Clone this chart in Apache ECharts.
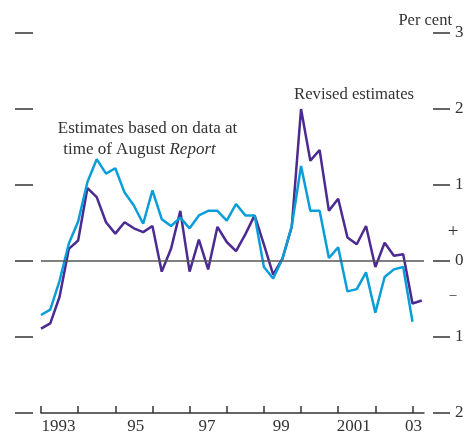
<!DOCTYPE html>
<html>
<head>
<meta charset="utf-8">
<script src="https://cdn.jsdelivr.net/npm/echarts@6/dist/echarts.min.js"></script>
<style>html,body{margin:0;padding:0;background:#fff;}#c{width:467px;height:432px;}</style>
</head>
<body>
<div id="c"></div>
<script>
// Quarterly data, 1993 Q1 onwards
const startYear = 1993;
const revised = [-0.89,-0.82,-0.47,0.16,0.27,0.96,0.84,0.51,0.36,0.51,0.43,0.38,0.46,-0.14,0.16,0.66,-0.14,0.28,-0.11,0.45,0.25,0.13,0.35,0.60,0.22,-0.18,0.03,0.45,2.00,1.32,1.46,0.66,0.82,0.31,0.22,0.46,-0.08,0.24,0.07,0.09,-0.56,-0.52];
const august = [-0.71,-0.64,-0.26,0.23,0.52,1.04,1.34,1.15,1.22,0.90,0.73,0.49,0.93,0.55,0.46,0.57,0.43,0.60,0.66,0.66,0.53,0.75,0.60,0.60,-0.08,-0.23,0.03,0.46,1.25,0.66,0.66,0.04,0.18,-0.40,-0.37,-0.15,-0.68,-0.21,-0.11,-0.08,-0.80];
const yearTicks = [1993,1994,1995,1996,1997,1998,1999,2000,2001,2002,2003];
const xLabels = ['1993','95','97','99','2001','03'];
const xLabelPos = [1993.47,1995.55,1997.47,1999.47,2001.42,2003.03];
const yTicks = [-2,-1,0,1,2,3];

function quarterX(i){ return startYear + i/4; }
const revData = revised.map((v,i)=>[quarterX(i), v]);
const augData = august.map((v,i)=>[quarterX(i), v]);

const FONT = 'Liberation Serif';
const chart = echarts.init(document.getElementById('c'), null, {renderer:'canvas'});
chart.setOption({
  animation:false,
  backgroundColor:'#fff',
  grid:{left:41, right:43, top:33, bottom:19, containLabel:false, outerBoundsMode:'none'},
  xAxis:{
    type:'value', min:1993, max:2003.31,
    axisLine:{show:true, onZero:false, lineStyle:{color:'#333', width:1.5}},
    axisTick:{show:true, inside:true, length:7, customValues:yearTicks, lineStyle:{color:'#333', width:1.5}},
    axisLabel:{show:true, customValues:xLabelPos, margin:5,
      formatter:function(v){ const k = xLabelPos.findIndex(p=>Math.abs(p-v)<1e-6); return k>=0?xLabels[k]:''; },
      color:'#333', fontFamily:FONT, fontSize:17},
    splitLine:{show:false}
  },
  yAxis:[
    {type:'value', min:-2, max:3, interval:1, position:'left', offset:8,
      axisLine:{show:false},
      axisTick:{show:true, inside:false, length:18, lineStyle:{color:'#333', width:1.5}},
      axisLabel:{show:false}, splitLine:{show:false}},
    {type:'value', min:-2, max:3, interval:1, position:'right', offset:9,
      axisLine:{show:false},
      axisTick:{show:true, inside:false, length:17, lineStyle:{color:'#333', width:1.5}},
      axisLabel:{show:true, margin:22, color:'#333', fontFamily:FONT, fontSize:17, padding:[4,0,0,0],
        formatter:function(v){return String(Math.abs(v));}},
      splitLine:{show:false}}
  ],
  series:[
    {type:'line', data:[], z:1, markLine:{silent:true, symbol:['none','none'], label:{show:false},
      lineStyle:{color:'#555', width:1.5, type:'solid'}, data:[{yAxis:0}]}},
    {name:'Revised estimates', type:'line', data:revData, showSymbol:false, z:3,
      lineStyle:{color:'#4B2A91', width:2.5}, itemStyle:{color:'#4B2A91'}},
    {name:'August Report', type:'line', data:augData, showSymbol:false, z:4,
      lineStyle:{color:'#0A9ED9', width:2.5}, itemStyle:{color:'#0A9ED9'}}
  ],
  graphic:[
    {type:'text', right:15, top:12, style:{text:'Per cent', font:'16.5px "Liberation Serif"', fill:'#333'}},
    {type:'text', left:294, top:86, style:{text:'Revised estimates', font:'16.7px "Liberation Serif"', fill:'#333'}},
    {type:'text', x:147.5, y:129, style:{text:'Estimates based on data at', font:'17px "Liberation Serif"', fill:'#333', align:'center', verticalAlign:'middle'}},
    {type:'text', x:139.5, y:150, style:{text:'time of August {i|Report}', font:'17px "Liberation Serif"', fill:'#333', align:'center', verticalAlign:'middle',
      rich:{i:{fontStyle:'italic', fontFamily:FONT, fontSize:17, fill:'#333'}}}},
    {type:'text', x:453, y:232, style:{text:'+', font:'19px "Liberation Serif"', fill:'#333', align:'center', verticalAlign:'middle'}},
    {type:'text', x:453, y:295, style:{text:'–', font:'14px "Liberation Serif"', fill:'#333', align:'center', verticalAlign:'middle'}}
  ]
});
</script>
</body>
</html>
